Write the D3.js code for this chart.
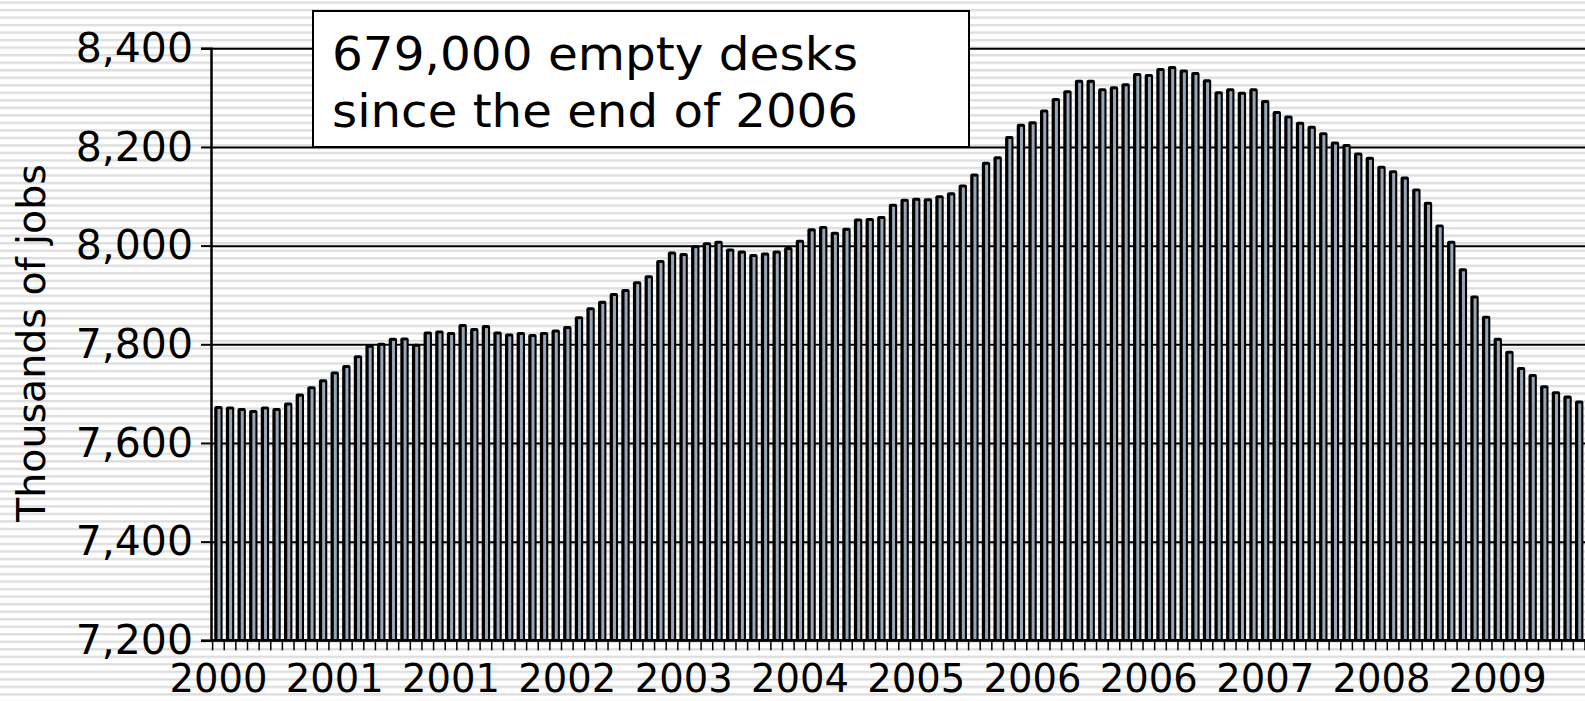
<!DOCTYPE html>
<html>
<head>
<meta charset="utf-8">
<script src="https://cdn.jsdelivr.net/npm/d3@7/dist/d3.min.js"></script>
<style>
  html, body { margin: 0; padding: 0; background: #fff; overflow: hidden; }
  svg { display: block; font-family: "DejaVu Sans", sans-serif; }
</style>
</head>
<body>
<svg id="chart" width="1585" height="701"></svg>
<script>
// ---- Data (thousands of jobs, monthly bars) ----
const jobs = [
  7673, 7672, 7669, 7665, 7672, 7669, 7680, 7698, 7713, 7727,
  7743, 7756, 7776, 7797, 7801, 7811, 7812, 7799, 7824, 7826,
  7823, 7839, 7831, 7837, 7824, 7820, 7823, 7819, 7823, 7828,
  7835, 7855, 7873, 7886, 7902, 7910, 7926, 7938, 7969, 7986,
  7983, 7999, 8005, 8008, 7992, 7988, 7981, 7984, 7988, 7995,
  8010, 8033, 8038, 8026, 8034, 8053, 8054, 8058, 8083, 8093,
  8095, 8094, 8100, 8106, 8122, 8144, 8168, 8179, 8220, 8245,
  8250, 8274, 8297, 8313, 8334, 8334, 8317, 8321, 8327, 8348,
  8346, 8358, 8362, 8355, 8350, 8335, 8311, 8317, 8310, 8317,
  8293, 8271, 8262, 8249, 8241, 8228, 8209, 8204, 8187, 8178,
  8160, 8151, 8138, 8114, 8087, 8041, 8008, 7952, 7897, 7856,
  7811, 7785, 7752, 7738, 7715, 7703, 7694, 7684
];
const categories = jobs.map((d, i) => i);
const xTickLabels = ["2000", "2001", "2001", "2002", "2003", "2004", "2005", "2006", "2006", "2007", "2008", "2009"];
const xLabelEvery = 10;
const yTicks = [7200, 7400, 7600, 7800, 8000, 8200, 8400];
const yDomain = [7200, 8400];
const yTitle = "Thousands of jobs";
const noteLines = ["679,000 empty desks", "since the end of 2006"];

// ---- Layout ----
const W = 1585, H = 701;
const plotLeft = 211, plotRight = 1585;
const yTop = 48.3, yBottom = 640.3;

const svg = d3.select("#chart");

// striped background
const defs = svg.append("defs");
const pat = defs.append("pattern")
  .attr("id", "stripes")
  .attr("patternUnits", "userSpaceOnUse")
  .attr("x", 0).attr("y", 1.36)
  .attr("width", 20).attr("height", 7.52);
pat.append("rect").attr("width", 20).attr("height", 7.52).attr("fill", "#ffffff");
pat.append("rect").attr("y", 0).attr("width", 20).attr("height", 2.4).attr("fill", "#dedede");
svg.append("rect").attr("width", W).attr("height", H).attr("fill", "url(#stripes)");

// scales
const x = d3.scaleBand().domain(categories).range([212.6, 1585]).paddingInner(0).paddingOuter(0);
const y = d3.scaleLinear().domain(yDomain).range([yBottom, yTop]);
const bw = x.bandwidth();

// gridlines
const grid = svg.append("g").attr("transform", `translate(${plotLeft},0)`)
  .call(d3.axisLeft(y).tickValues(yTicks).tickSize(-(plotRight - plotLeft)).tickFormat(""));
grid.select(".domain").remove();
grid.selectAll("line").attr("stroke", "#000").attr("stroke-width", 2);

// bars: dark body with lighter face
const bars = svg.append("g");
bars.selectAll("rect.dark").data(jobs).join("rect")
  .attr("class", "dark")
  .attr("x", (d, i) => x(categories[i]) + bw * 0.14)
  .attr("width", bw * 0.72)
  .attr("y", d => y(d) - 1)
  .attr("height", d => yBottom - y(d) + 1)
  .attr("rx", 2)
  .attr("fill", "#000");
bars.selectAll("rect.face").data(jobs).join("rect")
  .attr("class", "face")
  .attr("x", (d, i) => x(categories[i]) + bw * 0.42)
  .attr("width", bw * 0.26)
  .attr("y", d => y(d) + 2)
  .attr("height", d => Math.max(0, yBottom - y(d) - 2))
  .attr("fill", "#97a6b6");

// y axis
const yAxis = svg.append("g").attr("transform", `translate(${plotLeft},0)`)
  .call(d3.axisLeft(y).tickValues(yTicks).tickSize(10).tickPadding(8).tickFormat(d3.format(",")));
yAxis.select(".domain").attr("stroke", "#000").attr("stroke-width", 2.5);
yAxis.selectAll(".tick line").attr("stroke", "#000").attr("stroke-width", 2);
yAxis.selectAll(".tick text").attr("font-size", 41).attr("fill", "#000")
  .attr("font-family", "DejaVu Sans");

// x axis: tick marks at category boundaries
const xAxisG = svg.append("g");
xAxisG.append("line")
  .attr("x1", plotLeft).attr("x2", plotRight)
  .attr("y1", yBottom).attr("y2", yBottom)
  .attr("stroke", "#000").attr("stroke-width", 2.5);
const boundaries = categories.map(c => x(c)).concat([x(categories[categories.length - 1]) + bw]);
xAxisG.selectAll("line.tk").data(boundaries).join("line")
  .attr("class", "tk")
  .attr("x1", d => d).attr("x2", d => d)
  .attr("y1", yBottom).attr("y2", yBottom + 10)
  .attr("stroke", "#000").attr("stroke-width", 1.5);
// x labels
const labelCats = xTickLabels.map((t, k) => categories[k * xLabelEvery]);
const xLab = svg.append("g").attr("transform", `translate(0,${yBottom})`)
  .call(d3.axisBottom(x).tickValues(labelCats).tickSize(0).tickPadding(0)
    .tickFormat((d, k) => xTickLabels[k]));
xLab.select(".domain").remove();
xLab.selectAll(".tick text").attr("font-size", 38.5).attr("fill", "#000")
  .attr("font-family", "DejaVu Sans").attr("dy", null).attr("y", 52);

// y title
svg.append("text")
  .attr("transform", "translate(45,343) rotate(-90)")
  .attr("text-anchor", "middle")
  .attr("font-size", 39.5)
  .attr("fill", "#000")
  .text(yTitle);

// annotation box
const box = svg.append("g");
box.append("rect").attr("x", 313).attr("y", 11).attr("width", 656).attr("height", 136)
  .attr("fill", "#fff").attr("stroke", "#000").attr("stroke-width", 2);
box.selectAll("text").data(noteLines).join("text")
  .attr("x", 332).attr("y", (d, i) => 70 + i * 57)
  .attr("font-size", 46.5).attr("fill", "#000")
  .attr("textLength", 526).attr("lengthAdjust", "spacingAndGlyphs")
  .text(d => d);
</script>
</body>
</html>
